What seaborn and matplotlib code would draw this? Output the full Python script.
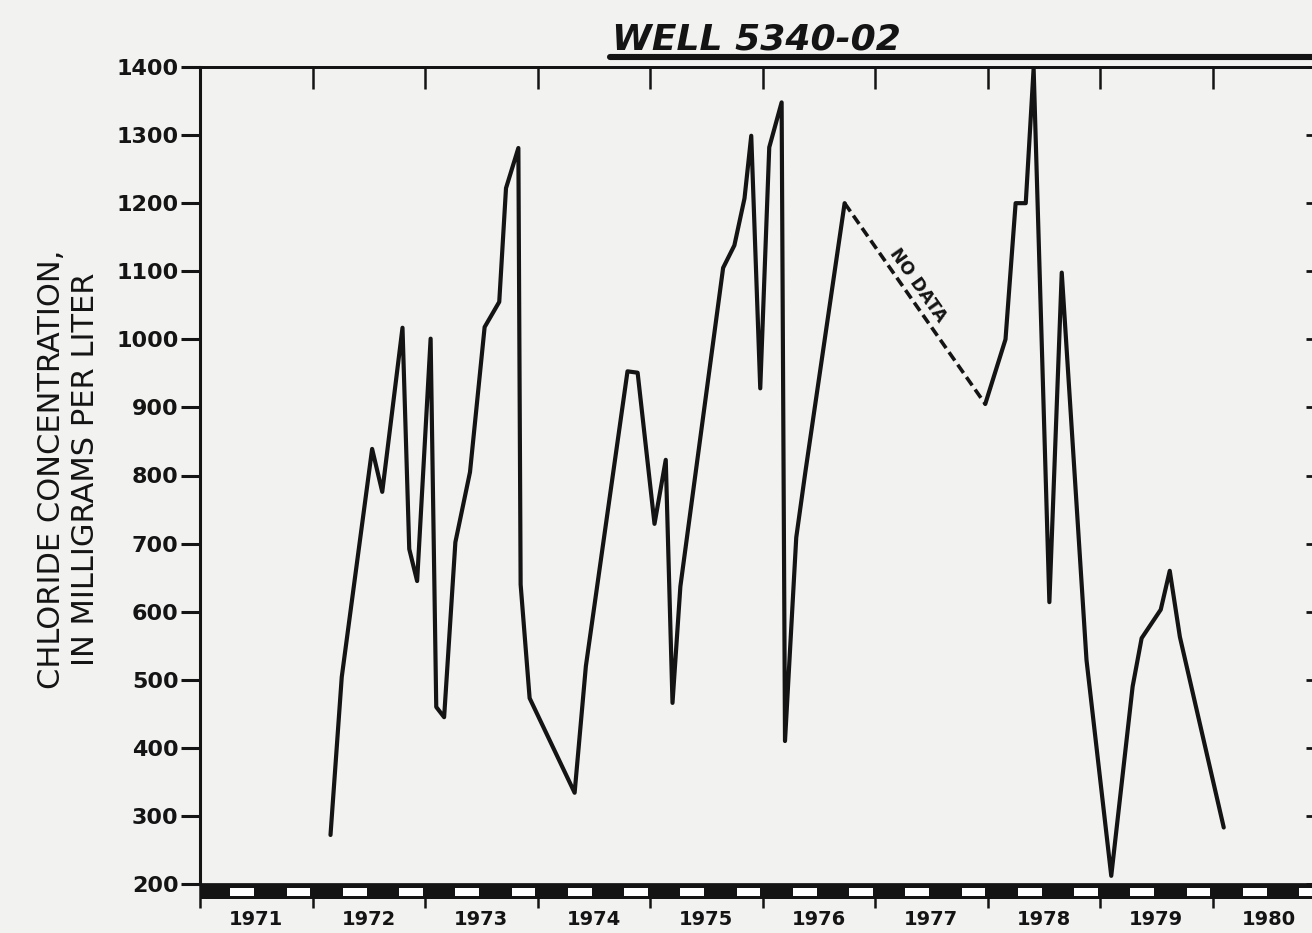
import numpy as np
import pandas as pd
import matplotlib
matplotlib.use("Agg")
import matplotlib.pyplot as plt
import matplotlib.transforms as mtransforms
from matplotlib.patches import Rectangle
from matplotlib.lines import Line2D
import seaborn as sns

years_a = [1972.16, 1972.26, 1972.53, 1972.62, 1972.80, 1972.86, 1972.93, 1973.05,
           1973.10, 1973.17, 1973.27, 1973.40, 1973.53, 1973.66, 1973.72, 1973.83,
           1973.85, 1973.93, 1974.33, 1974.43, 1974.80, 1974.89, 1975.04, 1975.14,
           1975.20, 1975.27, 1975.65, 1975.75, 1975.84, 1975.90, 1975.98, 1976.06,
           1976.17, 1976.20, 1976.30, 1976.38, 1976.73]
chloride_a = [272, 504, 839, 776, 1017, 692, 645, 1001,
              460, 445, 702, 805, 1018, 1055, 1222, 1281,
              640, 473, 334, 520, 953, 951, 729, 823,
              466, 637, 1105, 1138, 1207, 1299, 928, 1282,
              1348, 410, 709, 804, 1200]

years_b = [1977.98, 1978.16, 1978.25, 1978.34, 1978.41, 1978.55, 1978.66, 1978.88,
           1979.10, 1979.29, 1979.37, 1979.54, 1979.62, 1979.71, 1980.10]
chloride_b = [905, 1000, 1200, 1200, 1398, 614, 1098, 529,
              212, 490, 561, 603, 660, 563, 283]

year_edges = list(range(1971, 1982))
year_labels = ['1971', '1972', '1973', '1974', '1975', '1976', '1977', '1978', '1979', '1980']
yticks = list(range(200, 1401, 100))
ytick_labels = [str(v) for v in yticks]

sns.set_theme(style="ticks")
plt.rcParams['font.family'] = ['DejaVu Sans']

paper = '#f2f2f1'
ink = '#141414'

fig = plt.figure(figsize=(13.12, 9.33), dpi=100, facecolor=paper)
# axes runs past the right edge like the cropped original
ax = fig.add_axes([200/1312, 49/933, 1125/1312, 817/933])
ax.set_facecolor(paper)

df = pd.DataFrame({
    'year': years_a + years_b,
    'chloride': chloride_a + chloride_b,
    'segment': ['a'] * len(years_a) + ['b'] * len(years_b),
})
sns.lineplot(data=df, x='year', y='chloride', units='segment', estimator=None,
             sort=False, color=ink, lw=3.0, ax=ax)

# no data gap
gap = pd.DataFrame({'year': [years_a[-1], years_b[0]],
                    'chloride': [chloride_a[-1], chloride_b[0]]})
sns.lineplot(data=gap, x='year', y='chloride', color=ink, lw=2.6,
             linestyle=(0, (2.8, 1.4)), ax=ax)
ax.text(1977.38, 1080, 'NO DATA', rotation=-55, rotation_mode='anchor',
        ha='center', va='center', fontsize=12.5, fontweight='bold', color=ink)

ax.set_xlim(1971, 1981)
ax.set_ylim(200, 1400)

# x ticks: marks at year edges, labels mid-year
ax.set_xticks(year_edges)
ax.set_xticklabels([])
ax.set_xticks([y + 0.5 for y in year_edges[:-1]], minor=True)
ax.set_xticklabels(year_labels, minor=True, fontweight='bold')
ax.tick_params(axis='x', which='major', direction='out', length=17, width=1.8,
               color=ink, top=False)
ax.tick_params(axis='x', which='minor', length=0, pad=19, labelsize=14,
               labelcolor=ink)

ax.set_yticks(yticks)
ax.set_yticklabels(ytick_labels, fontweight='bold')
ax.tick_params(axis='y', direction='out', length=14, width=2.2, pad=1.5,
               labelsize=16, color=ink, labelcolor=ink, right=False)

top = ax.secondary_xaxis('top')
top.set_xticks(year_edges)
top.tick_params(direction='in', length=16, width=1.8, color=ink, labeltop=False)
top.spines['top'].set_linewidth(2)
top.spines['top'].set_color(ink)

right = ax.secondary_yaxis('right')
right.set_yticks(yticks)
right.tick_params(direction='in', length=14, width=2, color=ink, labelright=False)

for side in ['left', 'bottom', 'top', 'right']:
    ax.spines[side].set_color(ink)
ax.spines['left'].set_linewidth(2.2)
ax.spines['top'].set_linewidth(2)

# striped bar under the x axis
trans = mtransforms.blended_transform_factory(ax.transData, ax.transAxes)
ax.add_patch(Rectangle((1971, 0), 10, -15/817, transform=trans, clip_on=False,
                       facecolor=ink, edgecolor='none', zorder=3))
for k in range(20):
    ax.add_patch(Rectangle((1971 + 0.5 * k + 0.27, -4/817), 0.21, -8/817,
                           transform=trans, clip_on=False, facecolor='white',
                           edgecolor='none', zorder=4))

ax.set_xlabel('')
ax.set_ylabel('CHLORIDE CONCENTRATION,\nIN MILLIGRAMS PER LITER', fontsize=22,
              linespacing=1.2, color=ink, va='center')
ax.yaxis.set_label_coords(-0.117, 0.508)

fig.text(612/1312, 1 - 50/933, 'WELL 5340-02', fontsize=26, fontweight='bold',
         fontstyle='italic', ha='left', va='baseline', color=ink)
fig.add_artist(Line2D([610/1312, 1.0], [1 - 57/933] * 2, lw=4.4, color=ink,
                      transform=fig.transFigure))

fig.savefig('out.png', dpi=100, facecolor=paper)
